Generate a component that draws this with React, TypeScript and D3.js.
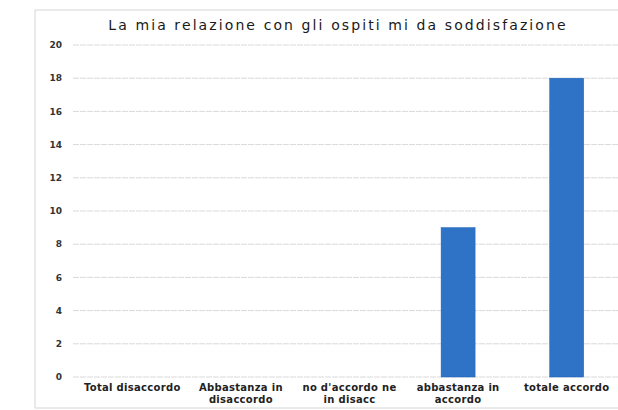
import React from "react";
import * as d3 from "d3";

const title = "La mia relazione con gli ospiti mi da soddisfazione";
const categories = [
  "Total disaccordo",
  "Abbastanza in disaccordo",
  "no d'accordo ne in disacc",
  "abbastanza in accordo",
  "totale accordo",
];
const categoryLines = [
  ["Total disaccordo"],
  ["Abbastanza in", "disaccordo"],
  ["no d'accordo ne", "in disacc"],
  ["abbastanza in", "accordo"],
  ["totale accordo"],
];
const values = [0, 0, 0, 9, 18];
const yTicks = [0, 2, 4, 6, 8, 10, 12, 14, 16, 18, 20];

const W = 618;
const H = 410;
const plot = { left: 73, right: 621, top: 45, bottom: 377 };

export default function App() {
  const x = d3
    .scaleBand<string>()
    .domain(categories)
    .range([78, 621])
    .paddingInner(0.687)
    .paddingOuter(0.3435);
  const y = d3.scaleLinear().domain([0, 20]).range([plot.bottom, plot.top]);

  return (
    <svg
      width={W}
      height={H}
      style={{ position: "absolute", left: 0, top: 0, background: "#fff" }}
    >
      <rect x={0} y={0} width={W} height={H} fill="#fff" />
      <path
        d={`M${W + 5},10 H35 V408 H${W + 5}`}
        fill="none"
        stroke="#d4d4d4"
        strokeWidth={1}
      />
      <text
        x={338}
        y={30}
        textAnchor="middle"
        fontFamily="DejaVu Sans"
        fontSize={14}
        letterSpacing={2.1}
        fill="#1a1a1a"
      >
        {title}
      </text>
      {yTicks.map((t) => (
        <g key={t}>
          <line
            x1={plot.left}
            x2={plot.right}
            y1={y(t)}
            y2={y(t)}
            stroke="#d9d9d9"
            strokeWidth={1}
            strokeDasharray="6 1"
          />
          <text
            x={62}
            y={y(t)}
            dy="0.35em"
            textAnchor="end"
            fontFamily="DejaVu Sans"
            fontWeight="bold"
            fontSize={9}
            fill="#333"
          >
            {t}
          </text>
        </g>
      ))}
      {categories.map((c, i) => (
        <rect
          key={c}
          x={x(c)}
          y={y(values[i])}
          width={x.bandwidth()}
          height={y(0) - y(values[i])}
          fill="#2e73c6"
          stroke="#1f62b8"
          strokeWidth={0.5}
        />
      ))}
      {categories.map((c, i) => (
        <text
          key={c}
          x={(x(c) as number) + x.bandwidth() / 2}
          y={391}
          textAnchor="middle"
          fontFamily="DejaVu Sans"
          fontWeight="bold"
          fontSize={10}
          letterSpacing={0.3}
          fill="#222"
        >
          {categoryLines[i].map((l, j) => (
            <tspan key={j} x={(x(c) as number) + x.bandwidth() / 2} dy={j === 0 ? 0 : 11.5}>
              {l}
            </tspan>
          ))}
        </text>
      ))}
    </svg>
  );
}
